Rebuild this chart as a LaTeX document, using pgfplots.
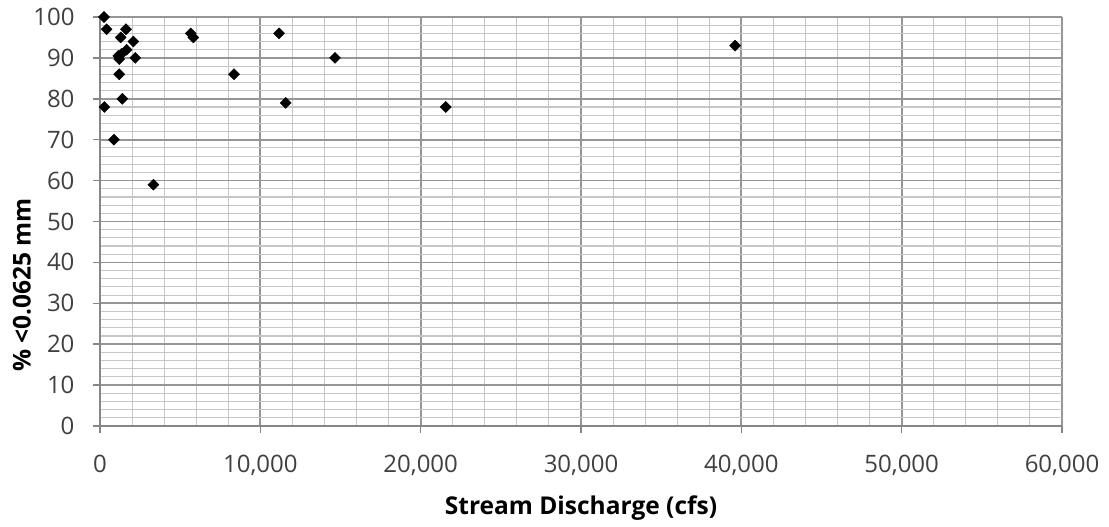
\documentclass[border=0pt]{standalone}
\usepackage{fontspec}
\setmainfont{Open Sans}
\usepackage{pgfplots}
\pgfplotsset{compat=1.18}
\definecolor{ticktext}{RGB}{64,64,64}
\definecolor{majgrid}{RGB}{150,150,150}
\definecolor{mingrid}{RGB}{198,198,198}
\definecolor{axisln}{RGB}{134,134,134}
\begin{document}
\begin{tikzpicture}[x=1pt,y=1pt]
\useasboundingbox (-100,-101) rectangle (1009,426);
\begin{axis}[
  at={(0pt,0pt)}, anchor=south west,
  width=962pt, height=409pt, scale only axis,
  xmin=0, xmax=60000, ymin=0, ymax=100,
  xtick={0,10000,...,60000}, ytick={0,10,...,100},
  minor x tick num=4, minor y tick num=4,
  grid=both,
  major grid style={draw=majgrid, line width=1.7pt},
  minor grid style={draw=mingrid, line width=1.1pt},
  axis x line*=bottom, axis y line*=left,
  axis line style={draw=axisln, line width=1.5pt, -},
  tick align=outside,
  major tick length=7pt, minor tick length=0pt,
  major tick style={draw=axisln, line width=1.5pt},
  scaled x ticks=false,
  /pgf/number format/assume math mode=true,
  /pgf/number format/.cd, 1000 sep={,}, /pgfplots/.cd,
  ticklabel style={font=\fontsize{24}{28}\selectfont, text=ticktext},
  xticklabel style={yshift=-19pt},
  yticklabel style={xshift=-15pt},
  clip=false,
]
\addplot[only marks, mark=square*, mark size=3.9pt,
  mark options={rotate=45, fill=black, draw=black}] coordinates {
(250,100) (415,97) (1620,97) (1290,95) (2080,94)
(1660,92) (1350,91) (1140,90.5) (1200,89.7) (2200,90)
(1200,86) (1390,80) (270,78) (870,70) (3330,59)
(5660,96) (5820,95) (8360,86) (11170,96) (11580,79)
(14660,90) (21565,78) (39610,93)
};
\end{axis}
\node[font=\fontsize{24.5}{29}\selectfont\bfseries] at (481,-82) {Stream Discharge (cfs)};
\node[font=\fontsize{24.5}{29}\selectfont\bfseries, rotate=90] at (-78,141) {\% <0.0625 mm};
\end{tikzpicture}
\end{document}
